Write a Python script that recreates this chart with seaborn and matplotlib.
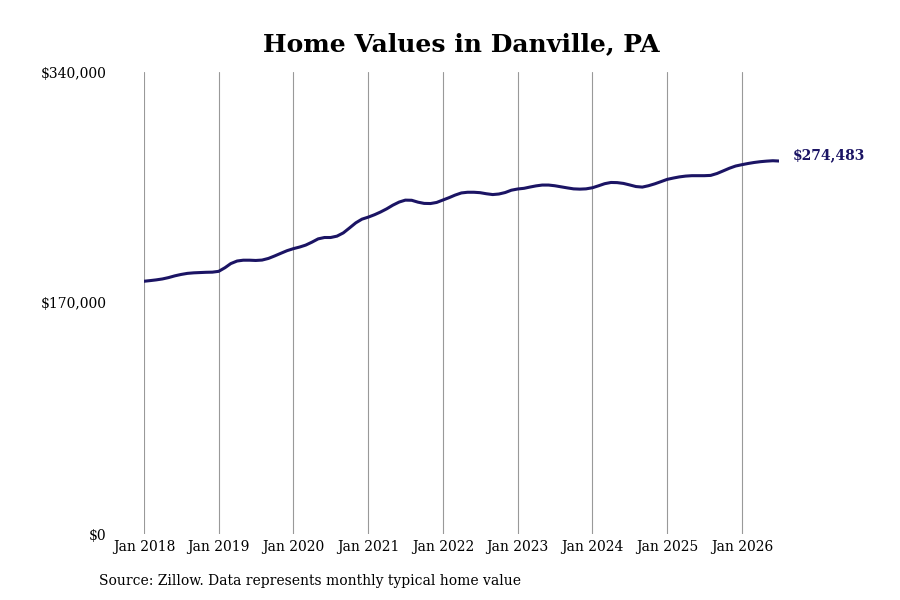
import pandas as pd
import numpy as np
import matplotlib
matplotlib.use("Agg")
import matplotlib.pyplot as plt
import matplotlib.dates as mdates
import matplotlib.ticker as mticker
import seaborn as sns

# Monthly typical home value, Jan 2018 - Jul 2026
start_month = "2018-01-01"
values_2018 = [186000, 186500, 187000, 187700, 188700, 190000, 191000, 191800, 192200, 192400, 192600, 192700]
values_2019 = [193300, 196000, 199000, 200900, 201500, 201500, 201300, 201600, 202800, 204600, 206600, 208500]
values_2020 = [210000, 211200, 212600, 214800, 217200, 218200, 218200, 219200, 221600, 225200, 229000, 231700]
values_2021 = [233200, 235000, 236900, 239300, 242000, 244300, 245700, 245600, 244200, 243300, 243200, 244000]
values_2022 = [245800, 247600, 249400, 251000, 251500, 251500, 251200, 250400, 249800, 250200, 251300, 253000]
values_2023 = [253900, 254400, 255300, 256200, 256800, 256800, 256300, 255500, 254700, 254000, 253800, 254000]
values_2024 = [254800, 256300, 257800, 258700, 258600, 258000, 256900, 255700, 255300, 256300, 257700, 259300]
values_2025 = [261000, 262000, 262800, 263400, 263700, 263700, 263700, 263900, 265300, 267200, 269200, 270800]
values_2026 = [271800, 272700, 273400, 274000, 274400, 274700, 274483]

y_ticks = [0, 170000, 340000]
title = "Home Values in Danville, PA"
source = "Source: Zillow. Data represents monthly typical home value"

values = (values_2018 + values_2019 + values_2020 + values_2021 + values_2022
          + values_2023 + values_2024 + values_2025 + values_2026)
df = pd.DataFrame({
    "date": pd.date_range(start_month, periods=len(values), freq="MS"),
    "value": values,
})

sns.set_style("white")
plt.rcParams["font.family"] = ["DejaVu Serif"]
plt.rcParams["text.color"] = "black"

line_color = "#1b1464"

fig = plt.figure(figsize=(9, 6), dpi=100)
ax = fig.add_axes([144 / 900, 66 / 600, 635 / 900, 462 / 600])

sns.lineplot(data=df, x="date", y="value", ax=ax, color=line_color, linewidth=2.2)

ax.set_xlim(df["date"].iloc[0], df["date"].iloc[-1])
ax.set_ylim(y_ticks[0], y_ticks[-1])
ax.set_yticks(y_ticks)
ax.yaxis.set_major_formatter(mticker.FuncFormatter(lambda v, p: f"${v:,.0f}"))
ax.xaxis.set_major_locator(mdates.YearLocator())
ax.xaxis.set_major_formatter(mdates.DateFormatter("%b %Y"))

ax.grid(axis="x", color="#999999", linewidth=0.8)
ax.grid(axis="y", visible=False)
for s in ax.spines.values():
    s.set_visible(False)
ax.tick_params(axis="both", length=0, labelsize=10, colors="black")
ax.tick_params(axis="y", pad=27)
ax.tick_params(axis="x", pad=4)
ax.set_xlabel("")
ax.set_ylabel("")

last = df.iloc[-1]
ax.annotate(f"${last['value']:,.0f}", xy=(last["date"], last["value"]),
            xytext=(10, 4), textcoords="offset points", ha="left", va="center",
            fontsize=10, fontweight="bold", color=line_color, annotation_clip=False)

fig.text(461 / 900, 1 - 44 / 600, title, ha="center", va="center",
         fontsize=18, fontweight="bold", color="black")
fig.text(99 / 900, 1 - 581 / 600, source, ha="left", va="center",
         fontsize=10, color="black")

fig.savefig("out.png", dpi=100)
